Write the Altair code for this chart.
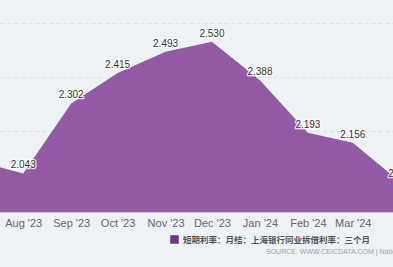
import altair as alt
import pandas as pd

dates = ["2023-07-01", "2023-08-01", "2023-09-01", "2023-10-01", "2023-11-01",
         "2023-12-01", "2024-01-01", "2024-02-01", "2024-03-01", "2024-04-01"]
values = [2.090, 2.043, 2.302, 2.415, 2.493, 2.530, 2.388, 2.193, 2.156, 2.010]
labels = ["2.090", "2.043", "2.302", "2.415", "2.493", "2.530", "2.388", "2.193", "2.156", "2.010"]
series_name = "短期利率：月结：上海银行同业拆借利率：三个月"
source_text = "SOURCE: WWW.CEICDATA.COM | National Interbank Funding Center"

df = pd.DataFrame({"date": dates, "value": values, "label": labels, "series": series_name})

bg = "#eef2f6"
purple = "#7b2f8e"

x = alt.X(
    "date:T",
    scale=alt.Scale(type="utc",
                    domain=[alt.DateTime(year=2023, month=7, date=17, utc=True),
                            alt.DateTime(year=2024, month=3, date=27, utc=True)]),
    axis=alt.Axis(title=None, labelExpr="utcFormat(datum.value, \"%b '%y\")",
                  tickCount=alt.TimeIntervalStep(interval="month", step=1),
                  ticks=False, grid=False, domain=True, domainColor="#c9c2cf",
                  labelFontSize=11, labelColor="#666666", labelPadding=5,
                  labelFont="Liberation Sans", labelFlush=False, labelOverlap=False),
)
y = alt.Y(
    "value:Q",
    scale=alt.Scale(domain=[1.9, 2.685], nice=False, zero=False),
    axis=alt.Axis(title=None, labels=False, ticks=False, domain=False, grid=True,
                  values=[2.0, 2.1, 2.2, 2.3, 2.4, 2.5, 2.6],
                  gridDash=[4, 3], gridColor="#d9dee4", gridWidth=1),
)

area = alt.Chart(df).mark_area(clip=True, fillOpacity=0.78, interpolate="linear").encode(
    x=x, y=y,
    color=alt.Color("series:N", scale=alt.Scale(domain=[series_name], range=[purple]),
                    legend=alt.Legend(title=None, orient="none", legendX=170, legendY=235,
                                      symbolType="square", symbolSize=72,
                                      symbolStrokeWidth=0, symbolOpacity=1,
                                      labelFontSize=8.5, labelFontWeight="bold",
                                      labelColor="#555555", labelFont="Noto Sans CJK SC",
                                      labelLimit=400)),
)

halo = alt.Chart(df).mark_text(dy=-8, fontSize=10, font="Liberation Sans", clip=True,
                               stroke="white", strokeWidth=2.5, strokeOpacity=0.8,
                               fill="white").encode(
    x="date:T", y="value:Q", text="label:N")
txt = alt.Chart(df).mark_text(dy=-8, fontSize=10, font="Liberation Sans", clip=True,
                              color="#333333").encode(
    x="date:T", y="value:Q", text="label:N")

src = alt.Chart(pd.DataFrame({"t": [source_text]})).mark_text(
    align="left", baseline="middle", fontSize=7, color="#a0a4a8",
    font="Liberation Sans").encode(
    x=alt.value(266), y=alt.value(252), text="t:N")

chart = alt.layer(area, halo, txt, src).properties(
    width=393, height=212,
    autosize=alt.AutoSizeParams(type="none"),
    padding={"left": 0, "top": 0, "right": 0, "bottom": 55},
    background=bg,
).configure_view(stroke=None, fill=bg)

chart.save("out.html", embed_options={"renderer": "svg", "actions": False})
